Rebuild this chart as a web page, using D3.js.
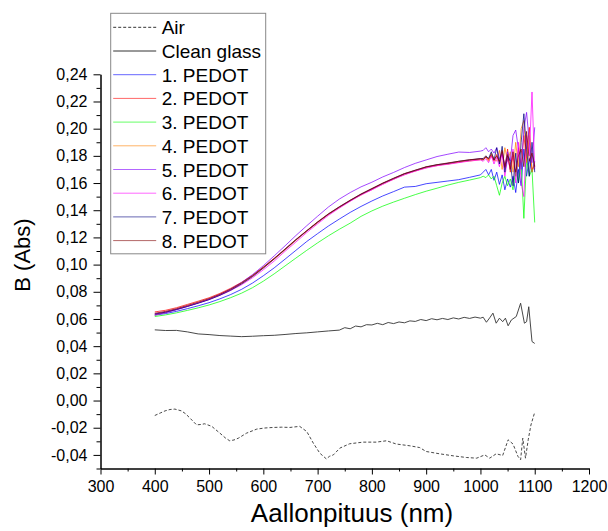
<!DOCTYPE html>
<html>
<head>
<meta charset="utf-8">
<script src="https://cdn.jsdelivr.net/npm/d3@7"></script>
<style>
  body { margin: 0; background: #fff; }
  svg { display: block; font-family: Arial, "Liberation Sans", sans-serif; }
  .axis path, .axis line { stroke: #000; stroke-width: 1; }
  .axis text { font-size: 16px; fill: #000; font-family: Arial, "Liberation Sans", sans-serif; }
  .curve { fill: none; stroke-width: 0.9; stroke-linejoin: round; }
</style>
</head>
<body>
<svg id="chart" width="608" height="531"></svg>
<script>
//
// data
var xTicks = [300, 400, 500, 600, 700, 800, 900, 1000, 1100, 1200],
    yTicks = [-0.04, -0.02, 0, 0.02, 0.04, 0.06, 0.08, 0.10, 0.12, 0.14, 0.16, 0.18, 0.20, 0.22, 0.24];

var legendNames = ['Air', 'Clean glass', '1. PEDOT', '2. PEDOT', '3. PEDOT', '4. PEDOT',
                   '5. PEDOT', '6. PEDOT', '7. PEDOT', '8. PEDOT'];

// [nm, abs]
var air = [[400,-0.011],[410,-0.0092],[419,-0.0076],[428,-0.0066],[437,-0.0063],[449,-0.0076],
           [457,-0.0098],[465,-0.013],[477,-0.0179],[485,-0.0176],[492,-0.0171],[505,-0.019],
           [520,-0.024],[530,-0.0275],[538,-0.0296],[546,-0.029],[554,-0.0277],[569,-0.024],
           [588,-0.021],[603,-0.0202],[618,-0.0198],[634,-0.0196],[649,-0.0198],[667,-0.019],
           [680,-0.0228],[692,-0.0313],[704,-0.0387],[716,-0.0429],[722,-0.041],[729,-0.040],
           [741,-0.035],[759,-0.0318],[784,-0.0306],[808,-0.0306],[827,-0.0296],[845,-0.032],
           [870,-0.0333],[888,-0.0346],[900,-0.0375],[925,-0.0392],[950,-0.0407],[974,-0.0419],
           [993,-0.0424],[1008,-0.040],[1017,-0.0424],[1029,-0.0392],[1041,-0.0404],[1051,-0.0289],
           [1060,-0.032],[1069,-0.041],[1074,-0.0436],[1078,-0.0277],[1083,-0.0424],[1088,-0.0289],
           [1093,-0.018],[1100,-0.0086]];

var glass = [[400,0.052],[420,0.0515],[440,0.0516],[460,0.0505],[480,0.049],[500,0.0485],
             [520,0.0478],[540,0.0474],[560,0.047],[580,0.0473],[600,0.0477],[620,0.048],
             [640,0.0486],[660,0.0493],[680,0.0498],[700,0.0505],[720,0.0512],[740,0.0518],
             [750,0.0536],[760,0.0528],[770,0.0548],[780,0.0542],[790,0.0558],[800,0.0556],
             [810,0.0568],[820,0.0558],[830,0.0574],[840,0.0566],[850,0.0578],[860,0.0572],
             [870,0.0586],[880,0.0582],[890,0.0596],[900,0.0588],[910,0.0602],[920,0.0594],
             [930,0.0604],[940,0.0596],[950,0.0608],[960,0.0600],[970,0.0612],[980,0.0604],
             [990,0.0614],[1000,0.0606],[1005,0.0613],[1011,0.0576],[1017,0.0608],[1023,0.0643],
             [1029,0.0569],[1035,0.0606],[1041,0.058],[1046,0.0606],[1051,0.055],[1057,0.0593],
             [1066,0.0618],[1074,0.0716],[1081,0.0569],[1085,0.058],[1089,0.069],[1095,0.0434],
             [1100,0.042]];

var pedotNm = [400,420,440,460,480,500,520,540,560,580,600,620,640,660,680,700,720,740,760,780,
               800,820,840,860,880,900,920,940,960,980,1000,
               1005,1010,1015,1020,1025,1030,1035,1040,1045,1050,1055,1060,1065,1070,1075,1080,
               1085,1090,1095,1100];

var pedot1 = [.0628,.0640,.0656,.0676,.0697,.0720,.0748,.0780,.0818,.0864,.0918,.0976,.1040,.1105,
              .1170,.1228,.1284,.1335,.1384,.1428,.1468,.1505,.1537,.1570,.1575,.1595,.1605,.1615,
              .1625,.1642,.1660,
              .168,.170,.166,.170,.162,.168,.159,.166,.155,.163,.157,.165,.153,.170,.158,.185,
              .165,.178,.168,.176];
var pedot2 = [.0652,.0664,.0683,.0707,.0731,.0756,.0788,.0826,.0870,.0922,.0982,.1046,.1112,.1182,
              .1248,.1312,.1368,.1422,.1468,.1516,.1552,.1598,.1628,.1668,.1688,.1718,.1728,.1745,
              .1752,.1768,.1778,
              .178,.179,.177,.180,.176,.181,.175,.183,.171,.185,.168,.180,.165,.186,.172,.195,
              .178,.201,.170,.173];
var pedot3 = [.0618,.0630,.0645,.0663,.0682,.0703,.0728,.0757,.0790,.0830,.0878,.0932,.0990,.1048,
              .1105,.1160,.1212,.1260,.1305,.1355,.1395,.1430,.1460,.1488,.1515,.1540,.1562,.1585,
              .1605,.1622,.1640,
              .165,.164,.166,.163,.165,.158,.151,.160,.165,.158,.163,.155,.170,.160,.175,.134,
              .178,.165,.170,.131];
var pedot4 = [.0628,.0648,.0670,.0694,.0718,.0745,.0777,.0815,.0860,.0913,.0974,.1040,.1108,.1178,
              .1246,.1308,.1372,.1418,.1472,.1512,.1558,.1592,.1632,.1662,.1692,.1712,.1733,.1738,
              .1758,.1762,.1772,
              .177,.180,.176,.182,.178,.176,.184,.170,.186,.176,.183,.168,.190,.172,.200,.206,
              .175,.195,.168,.175];
var pedot5 = [.0630,.0646,.0667,.0692,.0718,.0746,.0780,.0820,.0868,.0926,.0992,.1064,.1138,.1214,
              .1286,.1356,.1424,.1482,.1530,.1572,.1606,.1645,.1678,.1714,.1745,.1770,.1795,.1812,
              .1828,.1825,.1835,
              .184,.186,.183,.185,.182,.186,.178,.181,.172,.183,.176,.195,.199,.185,.170,.200,
              .212,.190,.175,.201];
var pedot6 = [.0638,.0652,.0672,.0695,.0718,.0743,.0774,.0810,.0852,.0903,.0962,.1026,.1098,.1166,
              .1236,.1300,.1362,.1416,.1466,.1512,.1550,.1590,.1628,.1660,.1688,.1710,.1728,.1738,
              .1750,.1762,.1770,
              .176,.178,.175,.180,.174,.179,.172,.182,.165,.178,.170,.185,.160,.190,.160,.150,
              .195,.180,.227,.170];
var pedot7 = [.0636,.0650,.0670,.0692,.0716,.0742,.0774,.0812,.0858,.0912,.0975,.1042,.1112,.1182,
              .1248,.1312,.1372,.1424,.1472,.1518,.1558,.1598,.1634,.1668,.1694,.1718,.1735,.1745,
              .1760,.1770,.1780,
              .178,.180,.178,.183,.177,.186,.174,.187,.168,.180,.176,.158,.182,.160,.190,.211,
              .185,.165,.190,.168];
var pedot8 = [.0642,.0656,.0676,.0700,.0724,.0750,.0782,.0820,.0865,.0918,.0980,.1045,.1115,.1185,
              .1250,.1315,.1374,.1426,.1474,.1520,.1560,.1600,.1636,.1670,.1695,.1720,.1735,.1748,
              .1760,.1772,.1778,
              .177,.179,.178,.181,.177,.180,.176,.184,.172,.181,.170,.183,.168,.180,.185,.172,
              .198,.176,.182,.172];

var pedotColors = ['#0000ff', '#ff0000', '#00ff00', '#ff8000', '#8000ff', '#ff00ff', '#000080', '#800000'];

//
// scales + axes
var svg = d3.select('#chart'),
    identity = function(d) { return d; },
    x = d3.scaleLinear().domain([300, 1200]).range([100.5, 589]),
    y = d3.scaleLinear().domain([-0.05, 0.24]).range([468.5, 74.3]),
    fmt = d3.formatLocale({decimal: ',', thousands: '', grouping: [3], currency: ['', ''], minus: '-'}).format('.2f');

var xMinor = xTicks.slice(0, -1).map(function(d) { return d + 50; }),
    yMinor = yTicks.map(function(d) { return d - 0.01; });

svg.append('g').attr('class', 'axis')
  .attr('transform', 'translate(0,468.5)')
  .call(d3.axisBottom(x).tickValues(xMinor).tickSize(3).tickSizeOuter(0).tickFormat(''));
svg.append('g').attr('class', 'axis')
  .attr('transform', 'translate(0,468.5)')
  .call(d3.axisBottom(x).tickValues(xTicks).tickSize(6).tickSizeOuter(0).tickPadding(6)
    .tickFormat(d3.format('d')));

svg.append('g').attr('class', 'axis')
  .attr('transform', 'translate(100.5,0)')
  .call(d3.axisLeft(y).tickValues(yMinor).tickSize(4).tickSizeOuter(0).tickFormat(''));
svg.append('g').attr('class', 'axis')
  .attr('transform', 'translate(100.5,0)')
  .call(d3.axisLeft(y).tickValues(yTicks).tickSize(7).tickSizeOuter(0).tickPadding(6).tickFormat(fmt));

svg.append('text')
  .attr('x', 352).attr('y', 522)
  .attr('text-anchor', 'middle')
  .style('font-size', '26px')
  .text('Aallonpituus (nm)');
svg.append('text')
  .attr('transform', 'translate(30,255) rotate(-90)')
  .attr('text-anchor', 'middle')
  .style('font-size', '22px')
  .text('B (Abs)');

//
// curves
var line = d3.line()
  .x(function(d) { return x(d[0]); })
  .y(function(d) { return y(d[1]); });

svg.append('path').attr('class', 'curve')
  .attr('d', line(air))
  .attr('stroke', '#333').attr('stroke-dasharray', '3,2');
svg.append('path').attr('class', 'curve')
  .attr('d', line(glass))
  .attr('stroke', '#333');

[pedot1, pedot2, pedot3, pedot4, pedot5, pedot6, pedot7, pedot8].forEach(function(vals, i) {
  svg.append('path').attr('class', 'curve')
    .attr('d', line(pedotNm.map(function(nm, j) { return [nm, vals[j]]; })))
    .attr('stroke', pedotColors[i])
    .attr('stroke-opacity', 0.8);
});

//
// legend
var legend = svg.append('g').attr('transform', 'translate(110.7,13.3)');
legend.append('rect')
  .attr('width', 155).attr('height', 240.5)
  .attr('fill', '#fff').attr('stroke', '#888');
var rows = legend.selectAll('g.row').data(legendNames).enter()
  .append('g').attr('class', 'row')
  .attr('transform', function(d, i) { return 'translate(0,' + (14 + i * 23.7) + ')'; });
rows.append('line')
  .attr('x1', 2.5).attr('x2', 45.5)
  .attr('stroke', function(d, i) { return i < 2 ? '#333' : pedotColors[i - 2]; })
  .attr('stroke-opacity', function(d, i) { return i < 2 ? 1 : 0.6; })
  .attr('stroke-dasharray', function(d, i) { return i === 0 ? '3,2' : null; })
  .attr('stroke-width', 1);
rows.append('text')
  .attr('x', 51).attr('y', 7)
  .style('font-size', '19px')
  .text(identity);
</script>
</body>
</html>
